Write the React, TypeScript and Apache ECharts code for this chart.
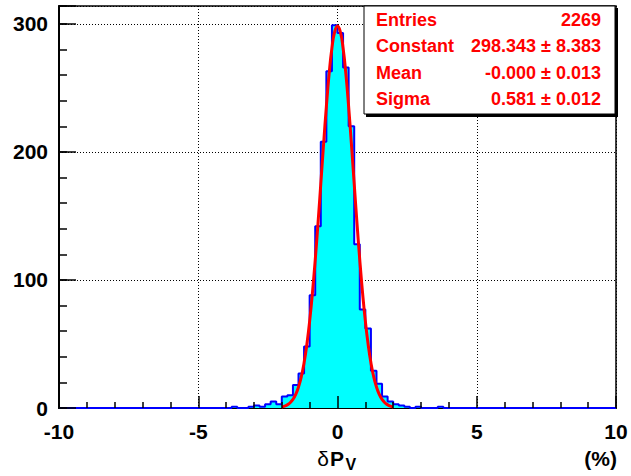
import React, { useEffect, useRef } from "react";
import * as echarts from "echarts";

// Histogram binning
const xMin = -10;
const xMax = 10;
const binWidth = 0.2;
// Bin contents, 100 bins of 0.2 from -10 to 10
const binCounts = [
  0, 0, 0, 0, 0, 0, 0, 0, 0, 0,
  0, 0, 0, 0, 0, 0, 0, 0, 0, 0,
  0, 0, 0, 0, 0, 0, 0, 0, 0, 0,
  0, 1, 0, 0, 1, 2, 1, 3, 5, 3,
  9, 10, 18, 27, 48, 88, 142, 208, 263, 299,
  293, 266, 220, 128, 77, 62, 29, 19, 9, 5,
  3, 2, 1, 0, 1, 0, 0, 0, 1, 0,
  0, 0, 0, 0, 0, 0, 0, 0, 0, 0,
  0, 0, 0, 0, 0, 0, 0, 0, 0, 0,
  0, 0, 0, 0, 0, 0, 0, 0, 0, 0,
];

// Gaussian fit curve values read at x = -2.0 .. 2.0 step 0.1
const fitStart = -2;
const fitStep = 0.1;
const fitValues = [
  0.8, 1.4, 2.5, 4.1, 6.7, 10.6, 16.4, 24.4, 35.3, 49.7, 67.8, 89.9, 115.6,
  144.3, 175.0, 206.0, 235.4, 261.1, 281.2, 293.9, 298.3, 293.9, 281.2, 261.1,
  235.4, 206.0, 175.0, 144.3, 115.6, 89.9, 67.8, 49.7, 35.3, 24.4, 16.4, 10.6,
  6.7, 4.1, 2.5, 1.4, 0.8,
];

const yMax = 314;
const statsNames = ["Entries", "Constant", "Mean", "Sigma"];
const statsValues = ["2269", "298.343 \u00b1 8.383", "-0.000 \u00b1 0.013", "0.581 \u00b1 0.012"];

const FONT = "'Liberation Sans', Arial, Helvetica, sans-serif";

export default function App() {
  const ref = useRef<HTMLDivElement>(null);
  useEffect(() => {
    if (!ref.current) return;
    const chart = echarts.init(ref.current, null, { renderer: "svg" });

    const histPts: number[][] = binCounts.map((c, i) => [
      +(xMin + i * binWidth).toFixed(4),
      c,
    ]);
    histPts.push([xMax, binCounts[binCounts.length - 1]]);

    const fitPts = fitValues.map((v, i) => [+(fitStart + i * fitStep).toFixed(4), v]);

    const gridLine = { show: true, lineStyle: { color: "#000", width: 1, type: [1, 2] as any } };

    const statsGraphics: any[] = [
      {
        type: "rect",
        shape: { x: 366, y: 8, width: 252, height: 109 },
        style: { fill: "#000" },
        z: 100,
      },
      {
        type: "rect",
        shape: { x: 364, y: 6, width: 251, height: 108 },
        style: { fill: "#fff", stroke: "#000", lineWidth: 1 },
        z: 101,
      },
    ];
    const rowY = [19.7, 46.2, 72.7, 99.2];
    statsNames.forEach((n, i) => {
      statsGraphics.push({
        type: "text",
        x: 376,
        y: rowY[i],
        z: 102,
        style: {
          text: n,
          fill: "#ff0000",
          font: `bold 18px ${FONT}`,
          textAlign: "left",
          textVerticalAlign: "middle",
        },
      });
      statsGraphics.push({
        type: "text",
        x: 601,
        y: rowY[i],
        z: 102,
        style: {
          text: statsValues[i],
          fill: "#ff0000",
          font: `bold 18px ${FONT}`,
          textAlign: "right",
          textVerticalAlign: "middle",
        },
      });
    });

    const axisTitle: any[] = [
      {
        type: "text",
        x: 329,
        y: 458,
        style: {
          text: "\u03b4",
          fill: "#000",
          font: `21px ${FONT}`,
          textAlign: "right",
          textVerticalAlign: "middle",
        },
      },
      {
        type: "text",
        x: 330,
        y: 458.5,
        style: {
          text: "P",
          fill: "#000",
          font: `bold 21px ${FONT}`,
          textAlign: "left",
          textVerticalAlign: "middle",
        },
      },
      {
        type: "text",
        x: 345.5,
        y: 464,
        style: {
          text: "V",
          fill: "#000",
          font: `bold 16px ${FONT}`,
          textAlign: "left",
          textVerticalAlign: "middle",
        },
      },
      {
        type: "text",
        x: 617,
        y: 458.5,
        style: {
          text: "(%)",
          fill: "#000",
          font: `bold 21px ${FONT}`,
          textAlign: "right",
          textVerticalAlign: "middle",
        },
      },
    ];

    chart.setOption({
      animation: false,
      backgroundColor: "#fff",
      grid: {
        left: 59,
        right: 15,
        top: 6,
        bottom: 68,
        show: true,
        borderColor: "#000",
        borderWidth: 1.5,
        backgroundColor: "transparent",
      },
      xAxis: [
        {
          type: "value",
          min: xMin,
          max: xMax,
          interval: 5,
          position: "bottom",
          axisLine: { show: true, onZero: false, lineStyle: { color: "#000", width: 2 } },
          axisTick: { show: false },
          axisLabel: {
            show: true,
            margin: 13,
            color: "#000",
            fontFamily: FONT,
            fontWeight: "bold",
            fontSize: 21,
          },
          splitLine: gridLine,
        },
        {
          type: "value",
          min: xMin,
          max: xMax,
          interval: 5,
          position: "bottom",
          z: 5,
          axisLine: { show: false, onZero: false },
          axisLabel: { show: false },
          splitLine: { show: false },
          axisTick: { show: true, inside: true, length: 12, lineStyle: { color: "#000", width: 1.5 } },
          minorTick: { show: true, splitNumber: 5, length: 6, lineStyle: { color: "#000", width: 1.5 } },
        },
      ],
      yAxis: [
        {
          type: "value",
          min: 0,
          max: yMax,
          interval: 100,
          position: "left",
          axisLine: { show: true, onZero: false, lineStyle: { color: "#000", width: 2 } },
          axisTick: { show: false },
          axisLabel: {
            show: true,
            showMaxLabel: false,
            margin: 11,
            color: "#000",
            fontFamily: FONT,
            fontWeight: "bold",
            fontSize: 21,
          },
          splitLine: gridLine,
        },
        {
          type: "value",
          min: 0,
          max: yMax,
          interval: 100,
          position: "left",
          z: 5,
          axisLine: { show: false, onZero: false },
          axisLabel: { show: false },
          splitLine: { show: false },
          axisTick: { show: true, inside: true, length: 17, lineStyle: { color: "#000", width: 1.5 } },
        },
        {
          type: "value",
          min: 0,
          max: yMax,
          interval: 20,
          position: "left",
          z: 5,
          axisLine: { show: false, onZero: false },
          axisLabel: { show: false },
          splitLine: { show: false },
          axisTick: { show: true, inside: true, length: 8, lineStyle: { color: "#000", width: 1.5 } },
        },
      ],
      series: [
        {
          type: "line",
          xAxisIndex: 0,
          yAxisIndex: 0,
          data: histPts,
          step: "end",
          symbol: "none",
          z: 2,
          lineStyle: { color: "#0000ff", width: 2 },
          areaStyle: { color: "#00ffff", opacity: 1 },
        },
        {
          type: "line",
          xAxisIndex: 0,
          yAxisIndex: 0,
          data: fitPts,
          smooth: true,
          symbol: "none",
          z: 3,
          lineStyle: { color: "#ff0000", width: 3 },
        },
      ],
      graphic: [...statsGraphics, ...axisTitle],
    });

    return () => chart.dispose();
  }, []);

  return (
    <div
      ref={ref}
      style={{ position: "fixed", left: 0, top: 0, width: 631, height: 476, background: "#fff" }}
    />
  );
}
